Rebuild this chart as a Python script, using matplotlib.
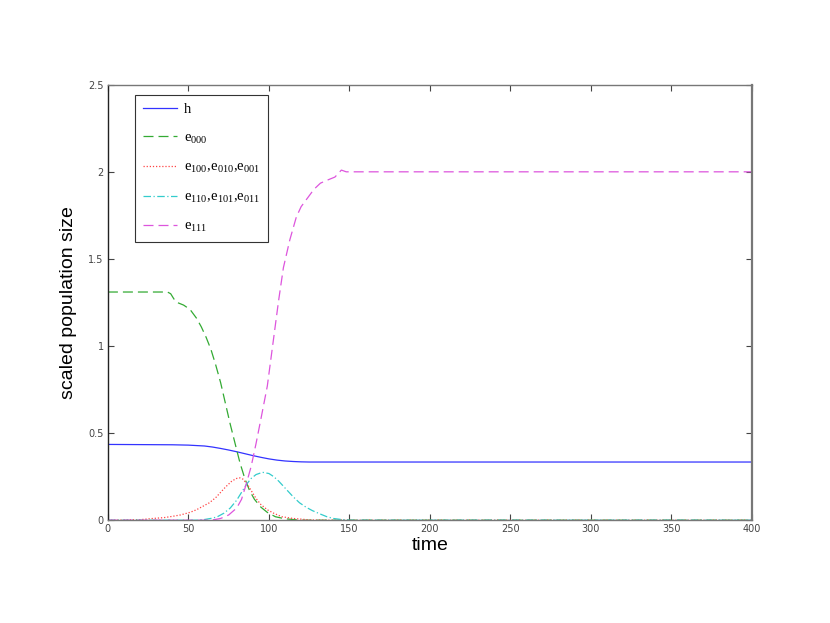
import numpy as np
import matplotlib
matplotlib.use("Agg")
import matplotlib.pyplot as plt

# values
t_h = [0, 20, 40, 50, 60, 65, 70, 75, 80, 85, 90, 95, 100, 105, 110, 115, 120, 125, 400]
h = [0.435, 0.434, 0.433, 0.431, 0.426, 0.42, 0.412, 0.403, 0.393, 0.382, 0.371, 0.361,
     0.352, 0.345, 0.34, 0.337, 0.335, 0.334, 0.334]

t_e000 = [0, 37, 39, 41, 43, 47, 51, 55, 58, 61, 64, 67, 70, 73, 76, 79, 82, 85, 88, 91,
          95, 99, 104, 110, 120, 400]
e000 = [1.31, 1.31, 1.30, 1.27, 1.25, 1.235, 1.21, 1.16, 1.11, 1.05, 0.98, 0.89, 0.79, 0.67,
        0.55, 0.44, 0.33, 0.24, 0.17, 0.12, 0.075, 0.045, 0.02, 0.008, 0.0, 0.0]

t_e100 = [0, 20, 28, 35, 40, 45, 51, 55, 60, 63, 67, 70, 73, 77, 80, 82, 84, 87, 90, 92,
          95, 99, 103, 108, 115, 125, 135, 400]
e100 = [0.0, 0.003, 0.01, 0.015, 0.022, 0.03, 0.045, 0.06, 0.085, 0.10, 0.13, 0.16, 0.19,
        0.225, 0.24, 0.243, 0.235, 0.2, 0.155, 0.125, 0.09, 0.06, 0.04, 0.02, 0.01, 0.002,
        0.0, 0.0]

t_e110 = [0, 55, 60, 65, 68, 72, 76, 80, 83, 86, 89, 92, 96, 100, 103, 106, 110, 115, 119,
          123, 127, 132, 136, 140, 145, 150, 400]
e110 = [0.0, 0.0, 0.004, 0.012, 0.02, 0.04, 0.07, 0.115, 0.16, 0.205, 0.24, 0.262, 0.275,
        0.268, 0.25, 0.225, 0.185, 0.135, 0.10, 0.075, 0.055, 0.035, 0.02, 0.01, 0.004, 0.0, 0.0]

t_e111 = [0, 62, 66, 70, 75, 80, 83, 86, 89, 92, 95, 99, 102, 106, 109, 113, 117, 120, 124,
          128, 132, 137, 141, 143, 145, 148, 152, 400]
e111 = [0.0, 0.0, 0.003, 0.01, 0.03, 0.07, 0.12, 0.21, 0.31, 0.44, 0.58, 0.77, 0.98, 1.26,
        1.45, 1.61, 1.74, 1.80, 1.85, 1.9, 1.935, 1.955, 1.97, 1.99, 2.01, 2.0, 2.0, 2.0]

labels = ['h',
          r'e$_{\mathregular{000}}$',
          r'e$_{\mathregular{100}}$,e$_{\mathregular{010}}$,e$_{\mathregular{001}}$',
          r'e$_{\mathregular{110}}$,e$_{\mathregular{101}}$,e$_{\mathregular{011}}$',
          r'e$_{\mathregular{111}}$']

plt.rcParams['mathtext.fontset'] = 'stix'

fig = plt.figure(figsize=(8.3, 6.23), dpi=100)
ax = fig.add_axes([0.130, 0.165, 0.776, 0.699])

lw = 0.9
ax.plot(t_h, h, color='#3333ff', lw=lw, ls='-', label=labels[0])
ax.plot(t_e000, e000, color='#33aa33', lw=lw, ls=(0, (8, 4)), label=labels[1])
ax.plot(t_e100, e100, color='#ff4444', lw=lw, ls=(0, (1, 1.5)), label=labels[2])
ax.plot(t_e110, e110, color='#33cccc', lw=lw, ls=(0, (6, 2, 1, 2)), label=labels[3])
ax.plot(t_e111, e111, color='#dd55dd', lw=lw, ls=(0, (8, 4)), label=labels[4])

ax.set_xlim(0, 400)
ax.set_ylim(0, 2.5)
ax.set_xticks(np.arange(0, 401, 50))
ax.set_yticks([0, 0.5, 1, 1.5, 2, 2.5])
ax.set_yticklabels(['0', '0.5', '1', '1.5', '2', '2.5'])
ax.tick_params(direction='in', top=True, right=True, length=4, width=0.8,
               labelsize=7, colors='#444444', pad=3)
for s in ax.spines.values():
    s.set_color('#777777')
    s.set_linewidth(1.0)
ax.spines['left'].set_color('#222222')
ax.spines['right'].set_linewidth(1.6)

ax.set_xlabel('time', fontsize=14, family='Liberation Sans', labelpad=2)
ax.set_ylabel('scaled population size', fontsize=14, family='Liberation Sans', labelpad=8)

leg = ax.legend(loc='upper left', bbox_to_anchor=(0.042, 0.977), borderaxespad=0,
                prop={'family': 'Liberation Serif', 'size': 10.5}, labelspacing=1.05,
                handlelength=2.3, handletextpad=0.5, fancybox=False, framealpha=1,
                borderpad=0.55)
leg.get_frame().set_edgecolor('#333333')
leg.get_frame().set_linewidth(0.8)

fig.savefig('out.png', dpi=100)
